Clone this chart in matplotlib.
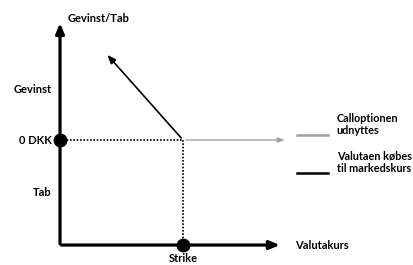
import matplotlib
matplotlib.use("Agg")
import matplotlib.pyplot as plt

plt.rcParams['font.family'] = ['Lato', 'DejaVu Sans']

# payoff diagram in data units: valutakurs (x) vs gevinst/tab (y)
strike = 1.0
zero_dkk = 0.0
x_axis_end = 1.81
y_axis_top = 1.14
y_axis_bottom = -1.0
call_curve_x = [strike, 0.37]       # black: valutaen købes til markedskurs
call_curve_y = [zero_dkk, 0.83]
exercise_x = [strike, 1.85]         # grey: calloptionen udnyttes
exercise_y = [zero_dkk, zero_dkk]

y_labels = ["Gevinst", "0 DKK", "Tab"]
y_label_pos = [0.48, 0.0, -0.5]
legend_labels = ["Calloptionen\nudnyttes", "Valutaen købes\ntil markedskurs"]
legend_colors = ["#a0a0a0", "black"]
legend_y = [0.05, -0.31]

fig = plt.figure(figsize=(4.13, 2.65), dpi=100)
ax = fig.add_axes([0, 0, 1, 1])
ax.set_xlim(-0.488, 2.87)
ax.set_ylim(-1.19, 1.333)
ax.axis('off')

# axes arrows
ax.annotate('', xy=(0, y_axis_top), xytext=(0, y_axis_bottom - 0.015),
            arrowprops=dict(arrowstyle='-|>,head_width=0.25,head_length=0.6', lw=2.3, color='black'))
ax.annotate('', xy=(x_axis_end, y_axis_bottom), xytext=(-0.012, y_axis_bottom),
            arrowprops=dict(arrowstyle='-|>,head_width=0.25,head_length=0.6', lw=2.3, color='black'))

# dotted guides
ax.plot([0, strike], [zero_dkk, zero_dkk], color='black', lw=1.2, ls=(0, (1, 1)))
ax.plot([strike, strike], [zero_dkk, y_axis_bottom], color='black', lw=1.2, ls=(0, (1, 1)))

# payoff lines
ax.annotate('', xy=(call_curve_x[1], call_curve_y[1]), xytext=(call_curve_x[0], call_curve_y[0]),
            arrowprops=dict(arrowstyle='-|>,head_width=0.2,head_length=0.5', lw=1.2, color='black'))
ax.annotate('', xy=(exercise_x[1], exercise_y[1]), xytext=(exercise_x[0], exercise_y[0]),
            arrowprops=dict(arrowstyle='-|>,head_width=0.15,head_length=0.4', lw=1.0, color=legend_colors[0]))

# dots
ax.plot([0, strike], [zero_dkk, y_axis_bottom], 'o', color='black', ms=9, zorder=5)

# labels
for lab, yy in zip(y_labels, y_label_pos):
    ax.text(-0.07, yy, lab, ha='right', va='center', fontsize=8, fontweight='bold')
ax.text(0.06, y_axis_top + 0.02, "Gevinst/Tab", ha='left', va='center', fontsize=8, fontweight='bold')
ax.text(1.91, y_axis_bottom, "Valutakurs", ha='left', va='center', fontsize=8, fontweight='bold')
ax.text(strike, -1.075, "Strike", ha='center', va='top', fontsize=8, fontweight='bold')

# legend drawn by hand
for lab, col, yy in zip(legend_labels, legend_colors, legend_y):
    ax.plot([1.93, 2.18], [yy, yy], color=col, lw=1.8)
    ax.text(2.25, yy + 0.1, lab, ha='left', va='center', fontsize=7.8, fontweight='bold', linespacing=1.1)

fig.savefig('out.png', dpi=100)
